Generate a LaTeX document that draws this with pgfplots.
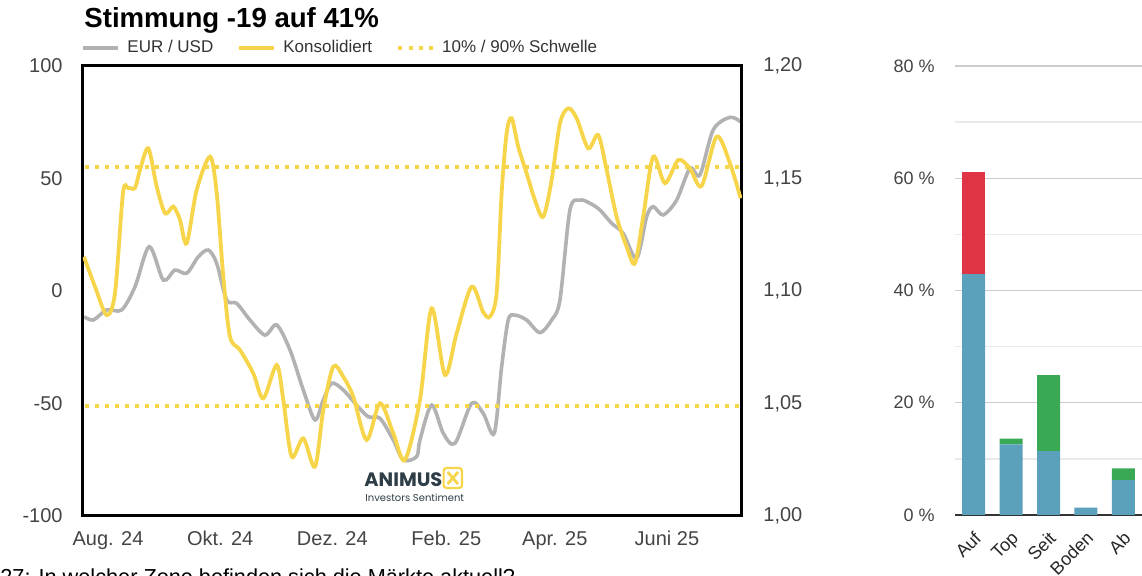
\documentclass[border=0pt]{standalone}
\usepackage{pgfplots}
\pgfplotsset{compat=1.18}
\usepackage{fontspec}
\setmainfont{Liberation Sans}
\newfontfamily\poppins{Poppins}
\definecolor{gelb}{HTML}{F6D54B}
\definecolor{grau}{HTML}{B2B2B2}
\definecolor{txt}{HTML}{444444}
\definecolor{blau}{HTML}{5BA1BC}
\definecolor{rot}{HTML}{DF3446}
\definecolor{gruen}{HTML}{3AA956}
\definecolor{logo}{HTML}{2E3D46}
\definecolor{gridA}{HTML}{CCCCCC}
\definecolor{gridB}{HTML}{EAEAEA}
\begin{document}
\begin{tikzpicture}
\useasboundingbox (0,0) rectangle (571pt,-288pt);
\clip (0,0) rectangle (571pt,-288pt);

% ---------- EUR/USD (right scale) ----------
\begin{axis}[at={(41.5pt,-33pt)}, anchor=north west, width=329.5pt, height=225pt, scale only axis,
 xmin=-13.6, xmax=344.8, ymin=1, ymax=1.2,
 axis x line=none, axis y line*=right, axis line style={draw=none},
 ytick={1,1.05,1.1,1.15,1.2}, yticklabels={{1,00},{1,05},{1,10},{1,15},{1,20}},
 major tick length=0pt,
 yticklabel style={font=\fontsize{10}{12}\selectfont, text=txt, anchor=west, inner sep=0pt, xshift=10.5pt},
]
\addplot[grau, line width=1.8pt, smooth] coordinates {
(-13.05,1.0886) (-7.99,1.0871) (-0.71,1.0916) (7.45,1.0916) (14.68,1.1019) (22.46,1.1197)
(30.07,1.1049) (36.43,1.1093) (42.80,1.1079) (49.10,1.1152) (54.54,1.1182) (59.11,1.1123)
(64.55,1.0960) (69.98,1.0945) (77.22,1.0871) (85.37,1.0804) (91.74,1.0849) (98.97,1.0738)
(106.20,1.0560) (112.56,1.0427) (117.08,1.0516) (121.64,1.0590) (127.95,1.0560) (135.24,1.0493)
(141.54,1.0441) (147.91,1.0434) (155.14,1.0338) (160.58,1.0249) (167.86,1.0264) (169.66,1.0338)
(176.02,1.0493) (182.33,1.0368) (188.69,1.0323) (197.77,1.0501) (204.08,1.0456) (210.06,1.0368)
(214.09,1.0664) (217.67,1.0871) (221.32,1.0893) (227.68,1.0871) (234.91,1.0815) (241.27,1.0871)
(245.79,1.0960) (251.22,1.1360) (256.66,1.1404) (262.10,1.1390) (267.54,1.1360) (273.90,1.1301)
(280.21,1.1256) (287.49,1.1145) (292.93,1.1330) (296.52,1.1375) (301.96,1.1338) (309.24,1.1404)
(316.48,1.1545) (321.91,1.1516) (329.15,1.1716) (338.23,1.1772) (344.05,1.1752)
};
\end{axis}

% ---------- Sentiment (left scale) ----------
\begin{axis}[at={(41.5pt,-33pt)}, anchor=north west, width=329.5pt, height=225pt, scale only axis,
 xmin=-13.6, xmax=344.8, ymin=-100, ymax=100,
 axis line style={line width=1.5pt, black},
 xtick={0,61,122,184,243,304}, xticklabels={Aug. 24,Okt. 24,Dez. 24,Feb. 25,Apr. 25,Juni 25},
 ytick={-100,-50,0,50,100}, yticklabels={-100,-50,0,50,100},
 major tick length=0pt,
 xticklabel style={font=\fontsize{10}{12}\selectfont, text=txt, anchor=north, inner sep=0pt, yshift=-7.5pt},
 yticklabel style={font=\fontsize{10}{12}\selectfont, text=txt, anchor=east, inner sep=0pt, xshift=-10pt},
 legend columns=3, legend cell align=left,
 legend image code/.code={\draw[#1] (0pt,0pt) -- (17.5pt,0pt);},
 legend style={draw=none, fill=none, at={(-0.003,1.04)}, anchor=west, inner sep=0pt,
   font=\fontsize{8.5}{10}\selectfont, text=black!80, nodes={inner sep=2pt},
   /tikz/every odd column/.append style={column sep=1.5pt},
   /tikz/every even column/.append style={column sep=10pt}},
]
\addlegendimage{grau, line width=2pt}
\addlegendentry{EUR / USD}
\addlegendimage{gelb, line width=2pt}
\addlegendentry{Konsolidiert}
\addlegendimage{gelb, line width=2pt, dash pattern=on 2pt off 3.17pt}
\addlegendentry{10\% / 90\% Schwelle}
\addplot[gelb, line width=2pt, dash pattern=on 2pt off 3pt, forget plot] coordinates {(-12.5,55) (344.8,55)};
\addplot[gelb, line width=2pt, dash pattern=on 2pt off 3pt, forget plot] coordinates {(-12.5,-51) (344.8,-51)};
\addplot[gelb, line width=1.9pt, smooth, forget plot] coordinates {
(-13.05,15.2) (-7.07,1.9) (-0.71,-10.7) (3.81,-0.9) (8.16,43.6) (10.88,45.8) (14.68,45.8)
(17.40,53.8) (21.91,63.4) (26.48,46.4) (31.07,34.5) (35.51,37.5) (39.15,31.6) (42.80,21.2)
(48.23,44.9) (55.47,59.7) (59.11,43.6) (62.70,6.4) (66.34,-20.3) (71.78,-26.2) (79.01,-36.6)
(84.45,-47.7) (91.74,-32.9) (95.33,-48.4) (99.89,-73.6) (106.20,-65.5) (112.56,-78.1)
(117.08,-52.9) (122.51,-33.6) (127.95,-38.1) (133.39,-47.0) (140.67,-66.2) (147.91,-49.9)
(155.14,-63.2) (161.50,-75.1) (169.66,-48.4) (176.02,-7.7) (183.25,-37.3) (189.61,-18.8)
(197.77,1.9) (203.92,-9.2) (207.72,-11.4) (211.37,-0.9) (214.09,43.6) (216.81,70.2)
(219.52,76.8) (223.11,64.1) (227.68,52.3) (232.19,40.4) (236.71,33.0) (241.27,49.3)
(245.79,74.5) (250.30,81.2) (254.87,76.8) (261.17,63.4) (266.61,69.3) (271.18,53.8)
(276.61,33.0) (282.05,19.7) (286.57,12.3) (291.08,33.0) (296.52,59.7) (302.88,47.9)
(310.12,58.2) (316.48,54.5) (322.84,46.7) (331.00,68.6) (338.23,56.8) (344.05,41.2)
};
\end{axis}

% ---------- Title ----------
\node[anchor=base west, inner sep=0pt, font=\bfseries\fontsize{13.8}{16}\selectfont] at (42pt,-14pt) {Stimmung -19 auf 41\%};

% ---------- Logo ----------
\node[anchor=base west, inner sep=0pt, text=logo, font=\poppins\bfseries\fontsize{9.7}{11}\selectfont] at (182pt,-243.5pt) {ANIMUS};
\node[anchor=base west, inner sep=0pt, text=logo, font=\poppins\fontsize{5}{6}\selectfont] at (182.5pt,-251pt) {Investors Sentiment};
\draw[gelb, line width=1.1pt, rounded corners=1.5pt] (221.8pt,-234pt) rectangle (231pt,-244pt);
\draw[gelb, line width=1.4pt] (223.8pt,-236pt) -- (229pt,-242pt) (229pt,-236pt) -- (223.8pt,-242pt);

% ---------- Bars ----------
\begin{axis}[at={(477.5pt,-33pt)}, anchor=north west, width=93.5pt, height=224.5pt, scale only axis,
 ybar stacked, bar width=11.5pt,
 xmin=-0.5, xmax=4.5, ymin=0, ymax=80,
 xtick={0,1,2,3,4}, xticklabels={Auf,Top,Seit,Boden,Ab},
 ytick={0,20,40,60,80}, yticklabels={0 \%,20 \%,40 \%,60 \%,80 \%},
 minor ytick={10,30,50,70},
 ymajorgrids, yminorgrids,
 major grid style={gridA, line width=0.7pt},
 minor grid style={gridB, line width=0.7pt},
 axis x line=bottom, axis y line=left,
 x axis line style={draw=black!80, line width=1.2pt, -},
 y axis line style={draw=none},
 major tick length=0pt, minor tick length=0pt,
 yticklabel style={font=\fontsize{9}{11}\selectfont, text=txt, anchor=east, inner sep=0pt, xshift=-10pt},
 xticklabel style={font=\fontsize{9}{11}\selectfont, text=black!85, rotate=45, anchor=north east, inner sep=0pt, yshift=-5pt, xshift=-5.5pt},
]
\addplot[fill=blau, draw=none] coordinates {(0,42.9) (1,12.6) (2,11.4) (3,1.3) (4,6.2)};
\addplot[fill=rot, draw=none] coordinates {(0,18.3) (1,0) (2,0) (3,0) (4,0)};
\addplot[fill=gruen, draw=none] coordinates {(0,0) (1,1.0) (2,13.5) (3,0) (4,2.1)};
\end{axis}

% ---------- cut-off footer ----------
\node[anchor=base west, inner sep=0pt, font=\fontsize{10.85}{13}\selectfont] at (0pt,-292.5pt) {27: In welcher Zone befinden sich die Märkte aktuell?};
\end{tikzpicture}
\end{document}
